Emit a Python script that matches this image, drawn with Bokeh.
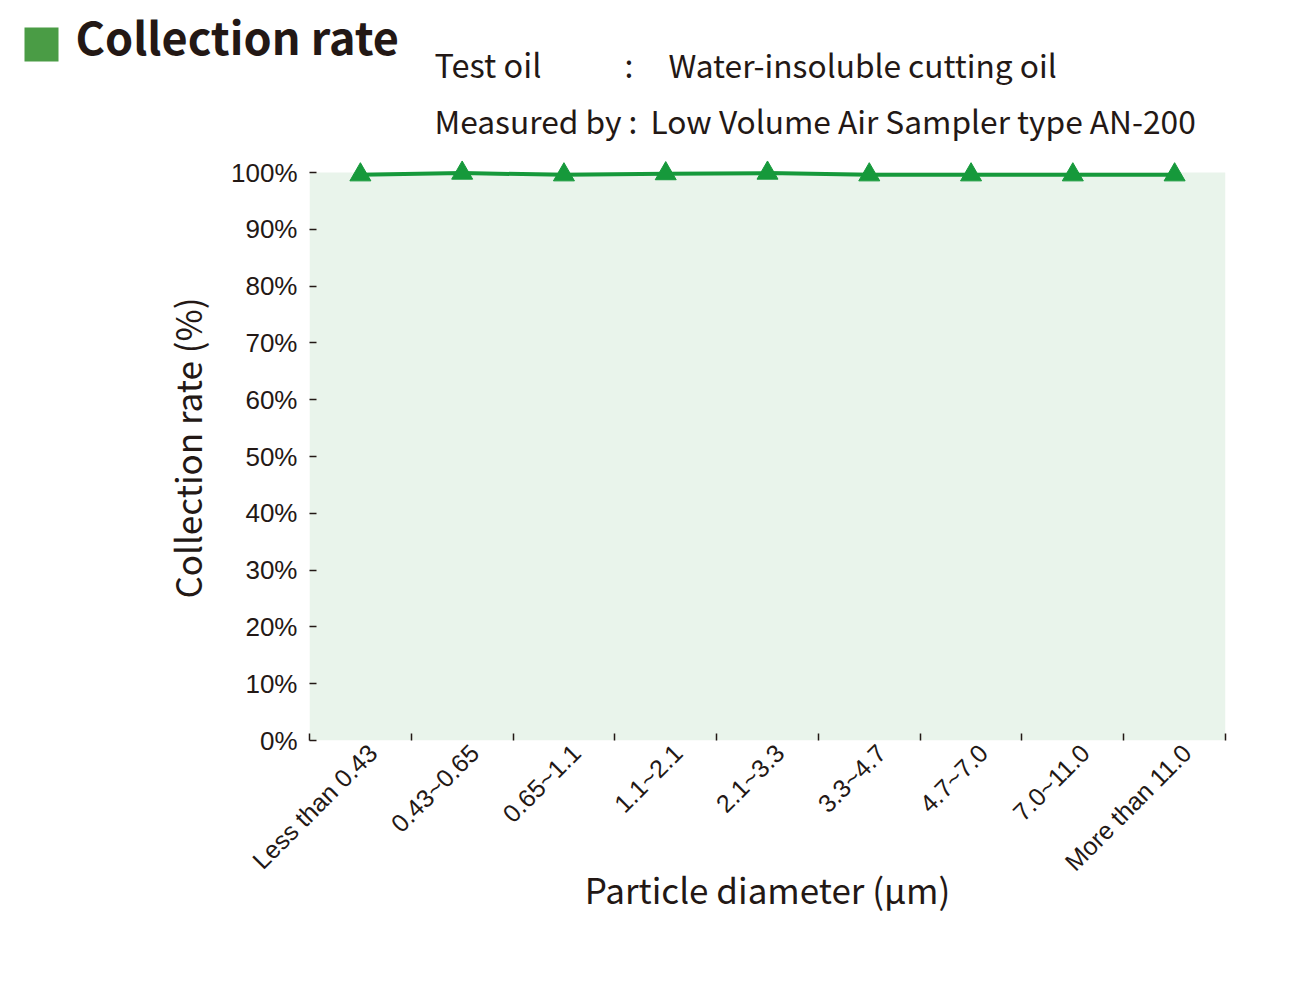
import math
from bokeh.plotting import figure
from bokeh.layouts import column, row
from bokeh.models import Range1d, FixedTicker, Label, BoxAnnotation, LinearAxis
from bokeh.embed import file_html
from bokeh.resources import INLINE

# ---- data ----
categories = ["Less than 0.43", "0.43~0.65", "0.65~1.1", "1.1~2.1", "2.1~3.3",
              "3.3~4.7", "4.7~7.0", "7.0~11.0", "More than 11.0"]
collection_rate = [99.6, 99.9, 99.6, 99.8, 99.9, 99.6, 99.6, 99.6, 99.6]
y_ticks = [0, 10, 20, 30, 40, 50, 60, 70, 80, 90, 100]
y_tick_labels = ["0%", "10%", "20%", "30%", "40%", "50%", "60%", "70%", "80%", "90%", "100%"]
title_text = "Collection rate"
line1_key, line1_sep, line1_val = "Test oil", ":", "Water-insoluble cutting oil"
line2_key, line2_val = "Measured by :", "Low Volume Air Sampler type AN-200"
x_title = "Particle diameter (\u00b5m)"
y_title = "Collection rate (%)"

# ---- styles ----
GREEN = "#16993b"
BG = "#e9f4eb"
DARK = "#231815"
SQUARE = "#4a9c45"
FIG_W = 1300
HEAD_H = 150

# ---------------- header figure ----------------
h = figure(frame_width=FIG_W, frame_height=HEAD_H,
           x_range=Range1d(0, FIG_W), y_range=Range1d(HEAD_H, 0),
           x_axis_type=None, y_axis_type=None,
           output_backend="svg", toolbar_location=None,
           min_border=0, background_fill_color="white", border_fill_color="white")
h.outline_line_color = None
h.grid.visible = False

h.add_layout(BoxAnnotation(left=24, right=58, top=27, bottom=61,
                           fill_color=SQUARE, fill_alpha=1.0, line_color=None))

def lab(text, x, baseline_y, size_px, bold=False):
    # empirical correction: rendered baseline sits ~0.48em below the given y
    h.add_layout(Label(x=x, y=baseline_y - 0.48 * size_px, text=text,
                       text_font="Noto Sans CJK JP", text_font_size=f"{size_px}px",
                       text_font_style="bold" if bold else "normal",
                       text_color=DARK, text_baseline="alphabetic", text_align="left"))

lab(title_text, 75, 57, 45, bold=True)
lab(line1_key, 434, 79, 32.5)
lab(line1_sep, 624, 79, 32)
lab(line1_val, 668, 79, 31.7)
lab(line2_key, 434, 135, 31.7)
lab(line2_val, 650, 135, 31.7)

# ---------------- chart figure ----------------
idx = list(range(len(categories)))
bounds = [i - 0.5 for i in range(len(categories) + 1)]

FRAME_L, FRAME_T, FRAME_W, FRAME_H = 309, 5, 916, 585
CH_H = 835
LABEL_SHIFT = 0.12  # category label offset (in category widths)

p = figure(frame_width=FRAME_W, frame_height=FRAME_H,
           x_range=Range1d(bounds[0], bounds[-1]), y_range=Range1d(0, 103),
           output_backend="svg", toolbar_location=None,
           min_border_left=FRAME_L, min_border_top=FRAME_T,
           min_border_right=FIG_W - FRAME_L - FRAME_W,
           min_border_bottom=CH_H - FRAME_T - FRAME_H,
           background_fill_color="white", border_fill_color="white")
p.outline_line_color = None
p.xgrid.visible = False
p.ygrid.visible = False

# plot background (0..100%)
p.quad(left=[bounds[0]], right=[bounds[-1]], bottom=[y_ticks[0]], top=[y_ticks[-1]],
       fill_color=BG, line_color=None)

p.line(idx, collection_rate, line_color=GREEN, line_width=4)
p.scatter(idx, collection_rate, marker="triangle", size=21, fill_color=GREEN, line_color=GREEN)

# y axis
ya = p.yaxis[0]
ya.ticker = FixedTicker(ticks=y_ticks)
ya.major_label_overrides = {t: l for t, l in zip(y_ticks, y_tick_labels)}
ya.axis_line_color = None
ya.major_tick_in = 7
ya.major_tick_out = 0
ya.major_tick_line_color = DARK
ya.major_tick_line_width = 1.5
ya.minor_tick_line_color = None
ya.major_label_text_font = "Liberation Sans"
ya.major_label_text_font_size = "26px"
ya.major_label_text_color = DARK
ya.major_label_standoff = 12
ya.axis_label = y_title
ya.axis_label_text_font = "Noto Sans CJK JP"
ya.axis_label_text_font_size = "35px"
ya.axis_label_text_font_style = "normal"
ya.axis_label_text_color = DARK
ya.axis_label_standoff = 16

# x axis: category boundary ticks (inside), no labels
xa = p.xaxis[0]
xa.ticker = FixedTicker(ticks=[], minor_ticks=bounds)
xa.axis_line_color = None
xa.major_tick_line_color = None
xa.major_tick_in = 0
xa.major_tick_out = 0
xa.minor_tick_in = 7
xa.minor_tick_out = 0
xa.minor_tick_line_color = DARK
xa.minor_tick_line_width = 1.5
xa.major_label_text_font_size = "0px"
xa.major_label_standoff = 0

# x axis: category labels
p.extra_x_ranges = {"labels": Range1d(bounds[0] - LABEL_SHIFT, bounds[-1] - LABEL_SHIFT)}
la = LinearAxis(x_range_name="labels")
la.ticker = FixedTicker(ticks=idx)
la.major_label_overrides = {i: c for i, c in zip(idx, categories)}
la.axis_line_color = None
la.major_tick_line_color = None
la.minor_tick_line_color = None
la.major_tick_in = 0
la.major_tick_out = 0
la.minor_tick_in = 0
la.minor_tick_out = 0
la.major_label_orientation = math.pi / 4
la.major_label_text_font = "Liberation Sans"
la.major_label_text_font_size = "25px"
la.major_label_text_color = DARK
la.major_label_standoff = 8
la.axis_label = x_title
la.axis_label_text_font = "Noto Sans CJK JP"
la.axis_label_text_font_size = "35px"
la.axis_label_text_font_style = "normal"
la.axis_label_text_color = DARK
la.axis_label_standoff = -26
p.add_layout(la, "below")

layout = column(row(h), p, spacing=0)
open("out.html", "w").write(file_html(layout, INLINE))
